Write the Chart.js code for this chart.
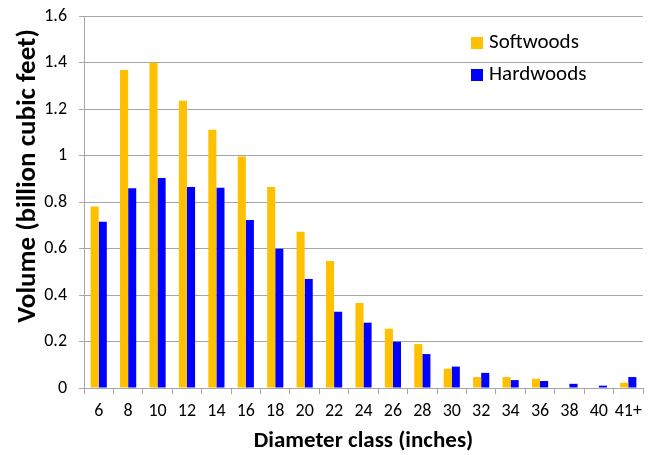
<!DOCTYPE html>
<html>
<head>
<meta charset="utf-8">
<script src="https://cdn.jsdelivr.net/npm/chart.js@4"></script>
<style>
  html, body { margin: 0; padding: 0; background: #fff; }
  #wrap { width: 652px; height: 455px; position: relative; }
</style>
</head>
<body>
<div id="wrap"><canvas id="volumeChart"></canvas></div>
<script>
const diameterClasses = ['6', '8', '10', '12', '14', '16', '18', '20', '22', '24', '26', '28', '30', '32', '34', '36', '38', '40', '41+'];
const softwoods = [0.781, 1.368, 1.399, 1.236, 1.111, 0.996, 0.865, 0.672, 0.546, 0.366, 0.255, 0.189, 0.083, 0.047, 0.047, 0.040, 0, 0, 0.023];
const hardwoods = [0.715, 0.859, 0.903, 0.865, 0.861, 0.723, 0.599, 0.469, 0.328, 0.281, 0.199, 0.146, 0.092, 0.065, 0.034, 0.030, 0.018, 0.010, 0.047];
const yTickLabels = ['0', '0.2', '0.4', '0.6', '0.8', '1', '1.2', '1.4', '1.6'];
const yTitle = 'Volume (billion cubic feet)';

const fontFamily = 'Carlito, Calibri, Lato, sans-serif';

// legend inside the plot area (top right) + y title placed a bit above centre like the original
const extraText = {
    id: 'extraText',
    afterDraw(chart) {
        const ctx = chart.ctx;
        ctx.save();
        ctx.font = '21px ' + fontFamily;
        ctx.textBaseline = 'middle';
        chart.data.datasets.forEach((ds, i) => {
            const y = 43 + i * 32;
            ctx.fillStyle = ds.backgroundColor;
            ctx.fillRect(471, y - 6, 12, 12);
            ctx.fillStyle = '#000';
            ctx.fillText(ds.label, 489, y);
        });

        ctx.translate(28, 176);
        ctx.rotate(-Math.PI / 2);
        ctx.font = 'bold 27px ' + fontFamily;
        ctx.textAlign = 'center';
        ctx.fillText(yTitle, 0, 0);
        ctx.restore();
    }
};

const ctx = document.getElementById('volumeChart').getContext('2d');
new Chart(ctx, {
    type: 'bar',
    data: {
        labels: diameterClasses,
        datasets: [
            { label: 'Softwoods', data: softwoods, backgroundColor: '#FFC000' },
            { label: 'Hardwoods', data: hardwoods, backgroundColor: '#0000FF' }
        ]
    },
    options: {
        responsive: true,
        maintainAspectRatio: false,
        animation: false,
        layout: { padding: { top: 16, right: 9, left: 0, bottom: 0 } },
        datasets: {
            bar: { categoryPercentage: 0.55, barPercentage: 1.0 }
        },
        plugins: {
            legend: { display: false },
            tooltip: { enabled: false }
        },
        scales: {
            x: {
                grid: {
                    offset: true,
                    drawOnChartArea: false,
                    drawTicks: true,
                    tickLength: 6,
                    color: '#a6a6a6'
                },
                border: { color: '#a6a6a6' },
                ticks: {
                    color: '#000',
                    font: { family: fontFamily, size: 18 },
                    maxRotation: 0,
                    autoSkip: false,
                    padding: 7
                },
                title: {
                    display: true,
                    text: 'Diameter class (inches)',
                    color: '#000',
                    font: { family: fontFamily, size: 23, weight: 'bold' },
                    padding: { top: 2, bottom: 0 }
                },
                afterFit(scale) { scale.height = 67; }
            },
            y: {
                min: 0,
                max: 1.6,
                ticks: {
                    stepSize: 0.2,
                    color: '#000',
                    font: { family: fontFamily, size: 18 },
                    padding: 12,
                    callback: (value, index) => yTickLabels[index]
                },
                grid: {
                    color: '#a6a6a6',
                    tickLength: 5
                },
                border: { color: '#a6a6a6' },
                afterFit(scale) {
                    scale.width = 84;
                    scale.paddingTop = 0;
                    scale.paddingBottom = 0;
                }
            }
        }
    },
    plugins: [extraText]
});
</script>
</body>
</html>
